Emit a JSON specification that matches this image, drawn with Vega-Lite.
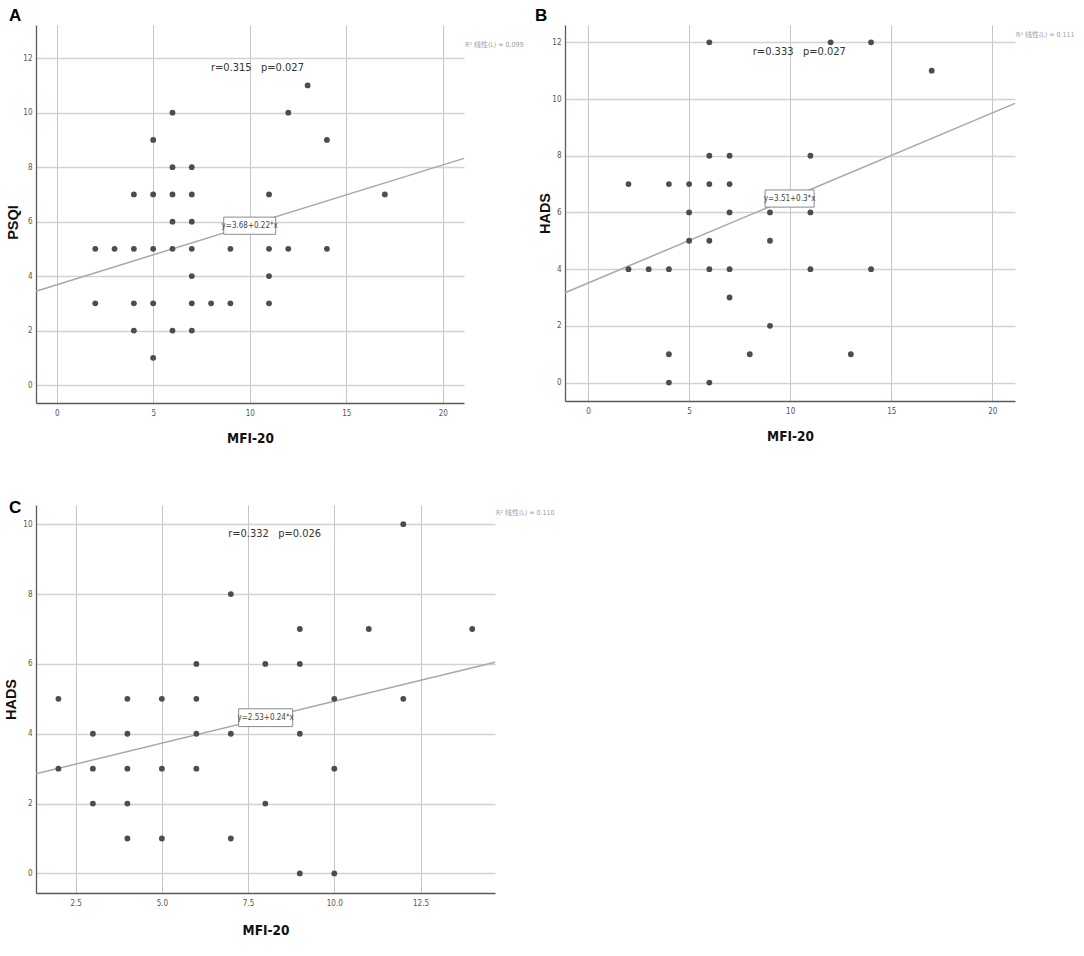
{
  "$schema": "https://vega.github.io/schema/vega-lite/v6.json",
  "background": "white",
  "padding": {"left": 3, "top": 7, "right": 5, "bottom": 5},
  "bounds": "flush",
  "columns": 2,
  "spacing": {"row": 102, "column": 70},
  "datasets": {
    "A_pts": [
      {"x": 6, "y": 10}, {"x": 13, "y": 11}, {"x": 12, "y": 10}, {"x": 5, "y": 9}, {"x": 14, "y": 9},
      {"x": 6, "y": 8}, {"x": 7, "y": 8}, {"x": 4, "y": 7}, {"x": 5, "y": 7}, {"x": 6, "y": 7},
      {"x": 7, "y": 7}, {"x": 11, "y": 7}, {"x": 17, "y": 7}, {"x": 6, "y": 6}, {"x": 7, "y": 6},
      {"x": 2, "y": 5}, {"x": 3, "y": 5}, {"x": 4, "y": 5}, {"x": 5, "y": 5}, {"x": 6, "y": 5},
      {"x": 7, "y": 5}, {"x": 9, "y": 5}, {"x": 11, "y": 5}, {"x": 12, "y": 5}, {"x": 14, "y": 5},
      {"x": 7, "y": 4}, {"x": 11, "y": 4}, {"x": 2, "y": 3}, {"x": 4, "y": 3}, {"x": 5, "y": 3},
      {"x": 7, "y": 3}, {"x": 8, "y": 3}, {"x": 9, "y": 3}, {"x": 11, "y": 3}, {"x": 4, "y": 2},
      {"x": 6, "y": 2}, {"x": 7, "y": 2}, {"x": 5, "y": 1}
    ],
    "A_line": [{"x": -1.07, "y": 3.445}, {"x": 21.1, "y": 8.322}],
    "A_box": [{"x": 10.0, "y": 5.85, "t": "y=3.68+0.22*x"}],
    "A_rp": [{"x": 10.4, "y": 11.64, "t": "r=0.315\u00a0\u00a0\u00a0p=0.027"}],
    "A_r2": [{"x": 21.1, "y": 12.49, "t": "R² 线性(L) = 0.099"}],
    "B_pts": [
      {"x": 6, "y": 12}, {"x": 12, "y": 12}, {"x": 14, "y": 12}, {"x": 17, "y": 11}, {"x": 6, "y": 8},
      {"x": 7, "y": 8}, {"x": 11, "y": 8}, {"x": 2, "y": 7}, {"x": 4, "y": 7}, {"x": 5, "y": 7},
      {"x": 6, "y": 7}, {"x": 7, "y": 7}, {"x": 5, "y": 6}, {"x": 7, "y": 6}, {"x": 9, "y": 6},
      {"x": 11, "y": 6}, {"x": 5, "y": 5}, {"x": 6, "y": 5}, {"x": 9, "y": 5}, {"x": 2, "y": 4},
      {"x": 3, "y": 4}, {"x": 4, "y": 4}, {"x": 6, "y": 4}, {"x": 7, "y": 4}, {"x": 11, "y": 4},
      {"x": 14, "y": 4}, {"x": 7, "y": 3}, {"x": 9, "y": 2}, {"x": 4, "y": 1}, {"x": 8, "y": 1},
      {"x": 13, "y": 1}, {"x": 4, "y": 0}, {"x": 6, "y": 0}
    ],
    "B_line": [{"x": -1.14, "y": 3.168}, {"x": 21.12, "y": 9.846}],
    "B_box": [{"x": 9.97, "y": 6.49, "t": "y=3.51+0.3*x"}],
    "B_rp": [{"x": 10.45, "y": 11.65, "t": "r=0.333\u00a0\u00a0\u00a0p=0.027"}],
    "B_r2": [{"x": 21.12, "y": 12.26, "t": "R² 线性(L) = 0.111"}],
    "C_pts": [
      {"x": 12, "y": 10}, {"x": 7, "y": 8}, {"x": 9, "y": 7}, {"x": 11, "y": 7}, {"x": 14, "y": 7},
      {"x": 6, "y": 6}, {"x": 8, "y": 6}, {"x": 9, "y": 6}, {"x": 2, "y": 5}, {"x": 4, "y": 5},
      {"x": 5, "y": 5}, {"x": 6, "y": 5}, {"x": 10, "y": 5}, {"x": 12, "y": 5}, {"x": 3, "y": 4},
      {"x": 4, "y": 4}, {"x": 6, "y": 4}, {"x": 7, "y": 4}, {"x": 9, "y": 4}, {"x": 2, "y": 3},
      {"x": 3, "y": 3}, {"x": 4, "y": 3}, {"x": 5, "y": 3}, {"x": 6, "y": 3}, {"x": 10, "y": 3},
      {"x": 3, "y": 2}, {"x": 4, "y": 2}, {"x": 8, "y": 2}, {"x": 4, "y": 1}, {"x": 5, "y": 1},
      {"x": 7, "y": 1}, {"x": 9, "y": 0}, {"x": 10, "y": 0}
    ],
    "C_line": [{"x": 1.35, "y": 2.854}, {"x": 14.66, "y": 6.048}],
    "C_box": [{"x": 8.01, "y": 4.46, "t": "y=2.53+0.24*x"}],
    "C_rp": [{"x": 8.27, "y": 9.72, "t": "r=0.332\u00a0\u00a0\u00a0p=0.026"}],
    "C_r2": [{"x": 14.66, "y": 10.32, "t": "R² 线性(L) = 0.110"}]
  },
  "concat": [
    {
      "width": 428, "height": 378,
      "title": {"text": "A", "dx": -27, "dy": 3},
      "encoding": {
        "x": {"field": "x", "type": "quantitative", "scale": {"domain": [-1.07, 21.1], "nice": false, "zero": false}, "axis": {"title": "MFI-20", "values": [0, 5, 10, 15, 20]}},
        "y": {"field": "y", "type": "quantitative", "scale": {"domain": [-0.66, 13.22], "nice": false, "zero": false}, "axis": {"title": "PSQI", "values": [0, 2, 4, 6, 8, 10, 12], "titleY": 197, "titlePadding": 2}}
      },
      "layer": [
        {"data": {"name": "A_line"}, "mark": {"type": "line", "color": "#a8a8a8", "strokeWidth": 1.5}},
        {"data": {"name": "A_pts"}, "mark": {"type": "point", "filled": true, "color": "#4d4d4d", "size": 34, "opacity": 1}},
        {"data": {"name": "A_box"}, "mark": {"type": "point", "shape": "M-1,-0.33H1V0.33H-1Z", "size": 2704, "fill": "white", "stroke": "#8a8a8a", "strokeWidth": 1, "filled": false, "opacity": 1, "fillOpacity": 1}},
        {"data": {"name": "A_box"}, "mark": {"type": "text", "font": "DejaVu Sans Condensed, sans-serif", "fontSize": 8, "color": "#444"}, "encoding": {"text": {"field": "t"}}},
        {"data": {"name": "A_rp"}, "mark": {"type": "text", "font": "DejaVu Sans Condensed, sans-serif", "fontSize": 11, "color": "#333"}, "encoding": {"text": {"field": "t"}}},
        {"data": {"name": "A_r2"}, "mark": {"type": "text", "align": "left", "dx": 1, "font": "DejaVu Sans Condensed, Noto Sans CJK SC, sans-serif", "fontSize": 7, "color": "#a0a0a0"}, "encoding": {"text": {"field": "t"}}}
      ]
    },
    {
      "width": 450, "height": 376,
      "title": {"text": "B", "dx": -30, "dy": 3},
      "encoding": {
        "x": {"field": "x", "type": "quantitative", "scale": {"domain": [-1.14, 21.12], "nice": false, "zero": false}, "axis": {"title": "MFI-20", "values": [0, 5, 10, 15, 20]}},
        "y": {"field": "y", "type": "quantitative", "scale": {"domain": [-0.65, 12.61], "nice": false, "zero": false}, "axis": {"title": "HADS", "values": [0, 2, 4, 6, 8, 10, 12], "titlePadding": -1}}
      },
      "layer": [
        {"data": {"name": "B_line"}, "mark": {"type": "line", "color": "#a8a8a8", "strokeWidth": 1.5}},
        {"data": {"name": "B_pts"}, "mark": {"type": "point", "filled": true, "color": "#4d4d4d", "size": 34, "opacity": 1}},
        {"data": {"name": "B_box"}, "mark": {"type": "point", "shape": "M-1,-0.35H1V0.35H-1Z", "size": 2401, "fill": "white", "stroke": "#8a8a8a", "strokeWidth": 1, "filled": false, "opacity": 1, "fillOpacity": 1}},
        {"data": {"name": "B_box"}, "mark": {"type": "text", "font": "DejaVu Sans Condensed, sans-serif", "fontSize": 8, "color": "#444"}, "encoding": {"text": {"field": "t"}}},
        {"data": {"name": "B_rp"}, "mark": {"type": "text", "font": "DejaVu Sans Condensed, sans-serif", "fontSize": 11, "color": "#333"}, "encoding": {"text": {"field": "t"}}},
        {"data": {"name": "B_r2"}, "mark": {"type": "text", "align": "left", "dx": 1, "font": "DejaVu Sans Condensed, Noto Sans CJK SC, sans-serif", "fontSize": 7, "color": "#a0a0a0"}, "encoding": {"text": {"field": "t"}}}
      ]
    },
    {
      "width": 459, "height": 388,
      "title": {"text": "C", "dx": -27, "dy": 15},
      "encoding": {
        "x": {"field": "x", "type": "quantitative", "scale": {"domain": [1.35, 14.66], "nice": false, "zero": false}, "axis": {"title": "MFI-20", "values": [2.5, 5, 7.5, 10, 12.5], "format": ".1f", "titlePadding": 16}},
        "y": {"field": "y", "type": "quantitative", "scale": {"domain": [-0.56, 10.55], "nice": false, "zero": false}, "axis": {"title": "HADS", "values": [0, 2, 4, 6, 8, 10], "titlePadding": 4}}
      },
      "layer": [
        {"data": {"name": "C_line"}, "mark": {"type": "line", "color": "#a8a8a8", "strokeWidth": 1.5}},
        {"data": {"name": "C_pts"}, "mark": {"type": "point", "filled": true, "color": "#4d4d4d", "size": 34, "opacity": 1}},
        {"data": {"name": "C_box"}, "mark": {"type": "point", "shape": "M-1,-0.33H1V0.33H-1Z", "size": 2916, "fill": "white", "stroke": "#8a8a8a", "strokeWidth": 1, "filled": false, "opacity": 1, "fillOpacity": 1}},
        {"data": {"name": "C_box"}, "mark": {"type": "text", "font": "DejaVu Sans Condensed, sans-serif", "fontSize": 8, "color": "#444"}, "encoding": {"text": {"field": "t"}}},
        {"data": {"name": "C_rp"}, "mark": {"type": "text", "font": "DejaVu Sans Condensed, sans-serif", "fontSize": 11, "color": "#333"}, "encoding": {"text": {"field": "t"}}},
        {"data": {"name": "C_r2"}, "mark": {"type": "text", "align": "left", "dx": 1, "font": "DejaVu Sans Condensed, Noto Sans CJK SC, sans-serif", "fontSize": 7, "color": "#a0a0a0"}, "encoding": {"text": {"field": "t"}}}
      ]
    }
  ],
  "config": {
    "view": {"stroke": null},
    "axis": {
      "grid": true, "gridColor": "#c4c4c4", "gridWidth": 1,
      "domainColor": "#5a5a5a", "domainWidth": 1.3,
      "ticks": false,
      "labelFont": "DejaVu Sans Condensed, sans-serif", "labelFontSize": 8, "labelColor": "#555",
      "titleFontWeight": "bold", "titleColor": "#111"
    },
    "axisX": {"titleFont": "DejaVu Sans Condensed, sans-serif", "titleFontSize": 13.5, "labelPadding": 6, "titlePadding": 14},
    "axisY": {"titleFont": "Liberation Sans, Arial, sans-serif", "titleFontSize": 14.5, "labelPadding": 4, "gridWidth": 1.5, "gridColor": "#d2d2d2"},
    "title": {"anchor": "start", "frame": "group", "offset": 3, "baseline": "alphabetic", "font": "Liberation Sans, Arial, sans-serif", "fontSize": 17, "fontWeight": "bold", "color": "#000"}
  }
}
